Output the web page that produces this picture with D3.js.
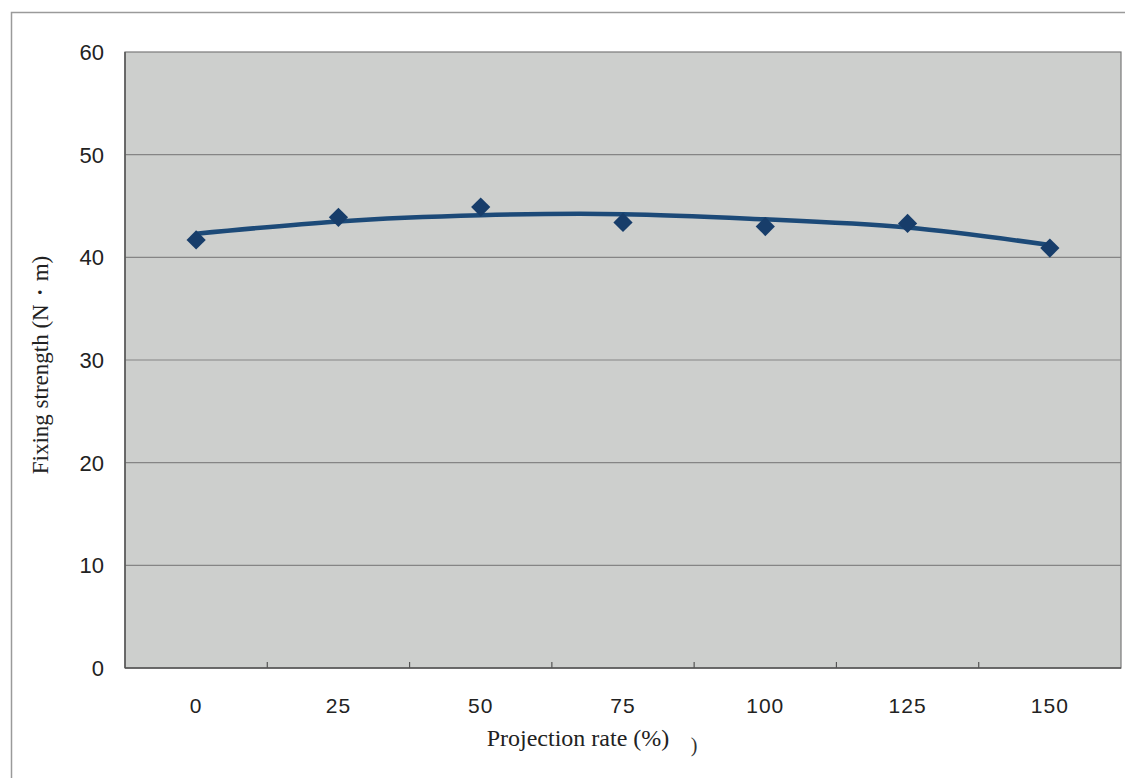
<!DOCTYPE html>
<html>
<head>
<meta charset="utf-8">
<script src="https://d3js.org/d3.v7.min.js"></script>
<style>
  body { margin: 0; background: #fff; }
  svg { display: block; }
</style>
</head>
<body>
<svg id="chart" width="1125" height="778"></svg>
<script>
// projection rate categories (%)
var rates = ["0", "25", "50", "75", "100", "125", "150"];
// measured fixing strength (N·m)
var strength = [41.7, 43.9, 44.9, 43.4, 43.0, 43.3, 40.9];
// fitted trend line at each category
var trend = [42.3, 43.5, 44.1, 44.2, 43.7, 42.9, 41.2];
var yTicks = [0, 10, 20, 30, 40, 50, 60];

var svg = d3.select("#chart");
var m = {left: 125, top: 52, right: 1121, bottom: 668};

// outer frame
svg.append("path")
  .attr("d", "M11.5,778 V12.5 H1125")
  .attr("fill", "none")
  .attr("stroke", "#9a9a9a")
  .attr("stroke-width", 1.5);

var x = d3.scaleBand().domain(rates).range([m.left, m.right]);
var y = d3.scaleLinear().domain([0, 60]).range([m.bottom, m.top]);

// plot area
svg.append("rect")
  .attr("x", m.left).attr("y", m.top)
  .attr("width", m.right - m.left).attr("height", m.bottom - m.top)
  .attr("fill", "#cdcfcd")
  .attr("stroke", "#7a7a7a")
  .attr("stroke-width", 1.2);

// gridlines
svg.append("g").selectAll("line")
  .data(yTicks.filter(function(d) { return d > 0 && d < 60; }))
  .enter().append("line")
  .attr("x1", m.left).attr("x2", m.right)
  .attr("y1", function(d) { return y(d); })
  .attr("y2", function(d) { return y(d); })
  .attr("stroke", "#858585")
  .attr("stroke-width", 1.2);

// axis lines
svg.append("line")
  .attr("x1", m.left).attr("x2", m.right)
  .attr("y1", m.bottom).attr("y2", m.bottom)
  .attr("stroke", "#555").attr("stroke-width", 1.5);
svg.append("line")
  .attr("x1", m.left).attr("x2", m.left)
  .attr("y1", m.top).attr("y2", m.bottom)
  .attr("stroke", "#555").attr("stroke-width", 1.5);

// inward ticks at band boundaries
svg.append("g").selectAll("line")
  .data(rates.slice(1))
  .enter().append("line")
  .attr("x1", function(d) { return x(d); })
  .attr("x2", function(d) { return x(d); })
  .attr("y1", m.bottom).attr("y2", m.bottom - 6)
  .attr("stroke", "#555").attr("stroke-width", 1.2);

// tick labels
svg.append("g").selectAll("text")
  .data(yTicks)
  .enter().append("text")
  .attr("x", 104)
  .attr("y", function(d) { return y(d); })
  .attr("dy", "0.36em")
  .attr("text-anchor", "end")
  .attr("font-family", "Liberation Sans, Arial, sans-serif")
  .attr("font-size", 22)
  .attr("fill", "#222")
  .text(function(d) { return d; });

svg.append("g").selectAll("text")
  .data(rates)
  .enter().append("text")
  .attr("x", function(d) { return x(d) + x.bandwidth() / 2; })
  .attr("y", 713)
  .attr("text-anchor", "middle")
  .attr("font-family", "Liberation Sans, Arial, sans-serif")
  .attr("font-size", 21)
  .attr("letter-spacing", 1)
  .attr("fill", "#222")
  .text(function(d) { return d; });

// axis titles
svg.append("text")
  .attr("transform", "translate(48,365) rotate(-90)")
  .attr("text-anchor", "middle")
  .attr("font-family", "Liberation Serif, Times New Roman, serif")
  .attr("font-size", 23)
  .attr("fill", "#222")
  .text("Fixing strength (N\u30FBm)");

svg.append("text")
  .attr("x", 578).attr("y", 746)
  .attr("text-anchor", "middle")
  .attr("font-family", "Liberation Serif, Times New Roman, serif")
  .attr("font-size", 24)
  .attr("fill", "#222")
  .text("Projection rate (%)");

svg.append("text")
  .attr("x", 694).attr("y", 752)
  .attr("text-anchor", "middle")
  .attr("font-family", "Liberation Serif, Times New Roman, serif")
  .attr("font-size", 20)
  .attr("fill", "#333")
  .text(")");

// trend line
var cx = function(d, i) { return x(rates[i]) + x.bandwidth() / 2; };
svg.append("path")
  .datum(trend)
  .attr("fill", "none")
  .attr("stroke", "#1c4a78")
  .attr("stroke-width", 4.5)
  .attr("d", d3.line().x(cx).y(function(d) { return y(d); }).curve(d3.curveNatural));

// markers: squares turned 45 degrees
svg.append("g").selectAll("path")
  .data(strength)
  .enter().append("path")
  .attr("transform", function(d, i) { return "translate(" + cx(d, i) + "," + y(d) + ") rotate(45)"; })
  .attr("d", d3.symbol().type(d3.symbolSquare).size(185))
  .attr("fill", "#173d6a");
</script>
</body>
</html>
